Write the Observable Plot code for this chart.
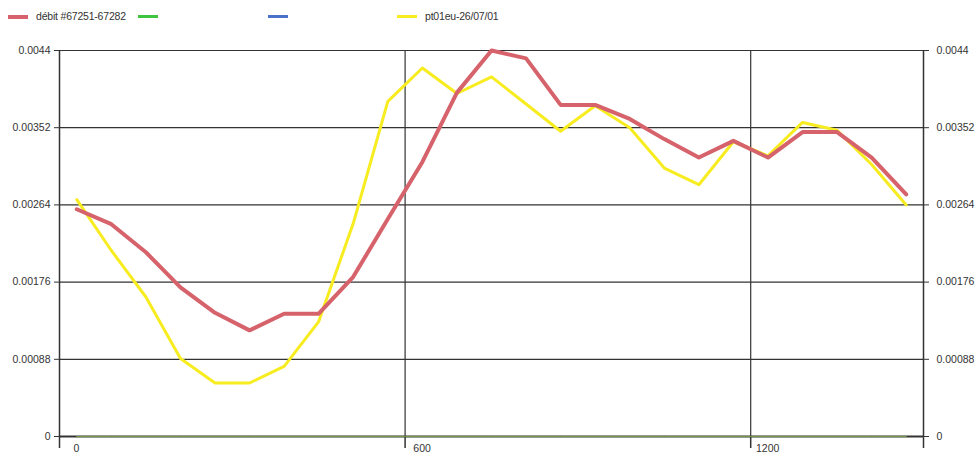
<!DOCTYPE html>
<html>
<head>
<meta charset="utf-8">
<script src="https://cdn.jsdelivr.net/npm/d3@7"></script>
<script src="https://cdn.jsdelivr.net/npm/@observablehq/plot@0.6"></script>
<style>
  html, body { margin: 0; padding: 0; background: #fff; }
  body { width: 975px; height: 454px; overflow: hidden; font-family: "Liberation Sans", Arial, sans-serif; }
  #legend { position: relative; height: 30px; width: 975px; font-size: 10.5px; color: #333; letter-spacing: -0.2px; }
  #legend .sw { position: absolute; top: 15px; height: 3px; width: 20px; }
  #legend .tx { position: absolute; top: 10px; line-height: 12px; }
  #chart svg { display: block; }
</style>
</head>
<body>
<div id="legend"></div>
<div id="chart"></div>
<script>
// Series labels and colours
const seriesNames = ["débit #67251-67282", "", "", "pt01eu-26/07/01"];
const seriesColors = ["#d6636b", "#3fc43f", "#4a72c8", "#f7ec1f"];

// x positions (minutes, hourly midpoints)
const minutes = [30, 90, 150, 210, 270, 330, 390, 450, 510, 570, 630, 690, 750, 810, 870, 930, 990, 1050, 1110, 1170, 1230, 1290, 1350, 1410, 1470];

// débit #67251-67282 (red)
const debit = [0.00259, 0.00242, 0.00210, 0.00170, 0.00141, 0.00121, 0.00140, 0.00140, 0.00182, 0.00248, 0.00313, 0.00392, 0.00440, 0.00431, 0.00378, 0.00378, 0.00362, 0.00339, 0.00318, 0.00337, 0.00318, 0.00347, 0.00347, 0.00318, 0.00276];

// green series (flat at 0)
const greenSeries = [0, 0, 0, 0, 0, 0, 0, 0, 0, 0, 0, 0, 0, 0, 0, 0, 0, 0, 0, 0, 0, 0, 0, 0, 0];

// blue series (flat at 0)
const blueSeries = [0, 0, 0, 0, 0, 0, 0, 0, 0, 0, 0, 0, 0, 0, 0, 0, 0, 0, 0, 0, 0, 0, 0, 0, 0];

// pt01eu-26/07/01 (yellow)
const pt01eu = [0.00270, 0.00212, 0.00159, 0.00089, 0.00061, 0.00061, 0.00080, 0.00131, 0.00243, 0.00382, 0.00420, 0.00391, 0.00410, 0.00379, 0.00348, 0.00377, 0.00352, 0.00306, 0.00287, 0.00336, 0.00320, 0.00358, 0.00349, 0.00310, 0.00264];

// Axis ticks
const yTicks = [0, 0.00088, 0.00176, 0.00264, 0.00352, 0.0044];
const yTickLabels = ["0", "0.00088", "0.00176", "0.00264", "0.00352", "0.0044"];
const xTicks = [0, 600, 1200, 1500];
const xLabelTicks = [0, 600, 1200];
const xTickLabels = ["0", "600", "1200"];
const xGrid = [600, 1200];
const xDomain = [0, 1500];
const yDomain = [0, 0.0044];

// Legend (HTML, above the SVG)
const legend = document.getElementById("legend");
const swatchX = [8, 138, 268, 397];
const textX = [36, null, null, 425];
seriesNames.forEach((name, i) => {
  const s = document.createElement("div");
  s.className = "sw";
  s.style.left = swatchX[i] + "px";
  s.style.background = seriesColors[i];
  if (i === 0) { s.style.height = "4px"; s.style.top = "15px"; }
  legend.appendChild(s);
  if (name) {
    const t = document.createElement("div");
    t.className = "tx";
    t.style.left = textX[i] + "px";
    t.textContent = name;
    legend.appendChild(t);
  }
});

const toRows = (ys) => minutes.map((m, i) => ({x: m, y: ys[i]}));
const yLabel = (d) => yTickLabels[yTicks.indexOf(d)];

const chart = Plot.plot({
  width: 975,
  height: 424,
  marginLeft: 59,
  marginRight: 52,
  marginTop: 20,
  marginBottom: 18,
  style: {fontFamily: "'Liberation Sans', Arial, sans-serif", fontSize: "10.5px", color: "#333", background: "#fff"},
  x: {domain: xDomain, nice: false},
  y: {domain: yDomain, nice: false},
  marks: [
    Plot.ruleY(yTicks, {x1: xDomain[0], x2: xDomain[1], stroke: "#333", strokeWidth: 1.2}),
    Plot.ruleX(xGrid, {y1: yDomain[0], y2: yDomain[1], stroke: "#333", strokeWidth: 1.2}),
    Plot.ruleX([xDomain[0], xDomain[1]], {y1: yDomain[0], y2: yDomain[1], stroke: "#333", strokeWidth: 1.5}),
    Plot.ruleY([0], {x1: xDomain[0], x2: xDomain[1], stroke: "#333", strokeWidth: 2.2}),
    Plot.axisY({anchor: "left", ticks: yTicks, tickFormat: yLabel, tickSize: 5, tickPadding: 4, label: null, letterSpacing: -0.2}),
    Plot.axisY({anchor: "right", ticks: yTicks, tickFormat: yLabel, tickSize: 5, tickPadding: 8, label: null, letterSpacing: -0.2}),
    Plot.axisX({anchor: "bottom", ticks: xTicks, tickFormat: () => "", tickSize: 12, label: null, strokeWidth: 1.5}),
    Plot.text(xLabelTicks, {x: (d) => d, text: (d, i) => xTickLabels[i], frameAnchor: "bottom", dx: 17, dy: 12, lineAnchor: "middle", fill: "#333", letterSpacing: -0.2}),
    Plot.line(toRows(blueSeries), {x: "x", y: "y", stroke: seriesColors[2], strokeWidth: 1, strokeOpacity: 0.3}),
    Plot.line(toRows(greenSeries), {x: "x", y: "y", stroke: "#9acd32", strokeWidth: 1, strokeOpacity: 0.6}),
    Plot.line(toRows(pt01eu), {x: "x", y: "y", stroke: seriesColors[3], strokeWidth: 3}),
    Plot.line(toRows(debit), {x: "x", y: "y", stroke: seriesColors[0], strokeWidth: 4})
  ]
});
document.getElementById("chart").appendChild(chart);
</script>
</body>
</html>
